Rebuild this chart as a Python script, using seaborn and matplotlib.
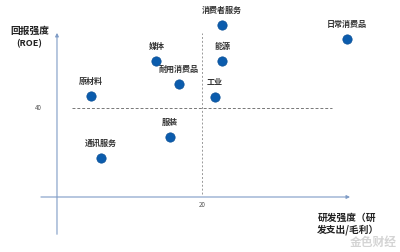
import matplotlib

matplotlib.use("Agg")
import matplotlib.pyplot as plt
import pandas as pd
import seaborn as sns

# sectors: R&D intensity (x) vs return intensity / ROE (y)
SECTORS = ["原材料", "媒体", "耐用消费品", "消费者服务", "能源", "工业", "日常消费品", "服装", "通讯服务"]
RD_INTENSITY = [4.7, 13.7, 16.8, 22.8, 22.8, 21.8, 40.0, 15.6, 6.1]
ROE = [45.4, 61.1, 50.8, 77.3, 61.1, 44.9, 71.0, 27.0, 17.5]

ROE_SPLIT = 40
RD_SPLIT = 20

AXIS_BLUE = "#7f9cc6"
POINT_BLUE = "#0b5cad"

sns.set_theme(style="white")
plt.rcParams["font.family"] = ["Noto Sans CJK SC", "DejaVu Sans"]

df = pd.DataFrame({"sector": SECTORS, "rd": RD_INTENSITY, "roe": ROE})

fig = plt.figure(figsize=(4, 2.52), dpi=100)
ax = fig.add_axes([0, 0, 1, 1])
ax.set_xlim(-7.86, 47.31)
ax.set_ylim(-24.72, 88.54)
ax.axis("off")

# main axes with arrows
ax.annotate("", xy=(0, 75), xytext=(0, -18),
            arrowprops=dict(arrowstyle="-|>", color=AXIS_BLUE, lw=0.8,
                            mutation_scale=5))
ax.annotate("", xy=(40.8, 0), xytext=(-2.6, 0),
            arrowprops=dict(arrowstyle="-|>", color=AXIS_BLUE, lw=0.8,
                            mutation_scale=5))

# quadrant split lines
ax.plot([2.1, 37.9], [ROE_SPLIT, ROE_SPLIT], linestyle=(0, (3, 2)),
        color="#777777", lw=0.7)
ax.plot([RD_SPLIT, RD_SPLIT], [1.5, 73.7], linestyle=(0, (2, 2)),
        color="#999999", lw=0.7)

sns.scatterplot(data=df, x="rd", y="roe", ax=ax, s=45, color=POINT_BLUE,
                edgecolor="#0a4f96", linewidth=0.5, zorder=3, legend=False)

for name, x, y in zip(SECTORS, RD_INTENSITY, ROE):
    ax.annotate(name, (x, y), xytext=(0, 7), textcoords="offset points",
                ha="center", va="bottom", fontsize=5.8, fontweight="bold",
                color="#333333")

ax.text(-2.6, ROE_SPLIT, str(ROE_SPLIT), ha="center", va="center",
        fontsize=4.5, color="#555555")
ax.text(RD_SPLIT, -3.5, str(RD_SPLIT), ha="center", va="center",
        fontsize=4.5, color="#555555")

ax.text(-3.8, 74.5, "回报强度", ha="center", va="center", fontsize=7,
        fontweight="bold", color="#222222")
ax.text(-3.9, 69, "(ROE)", ha="center", va="center", fontsize=6.5,
        fontweight="bold", color="#222222")
ax.text(35.9, -12.3, "研发强度（研\n发支出/毛利）", ha="left", va="center",
        fontsize=7, fontweight="bold", color="#222222", linespacing=1.15)

ax.text(46.8, -20.5, "金色财经", ha="right", va="center", fontsize=8.5,
        color="#d4d4d4", fontweight="bold")

fig.savefig("out.png", dpi=100)
